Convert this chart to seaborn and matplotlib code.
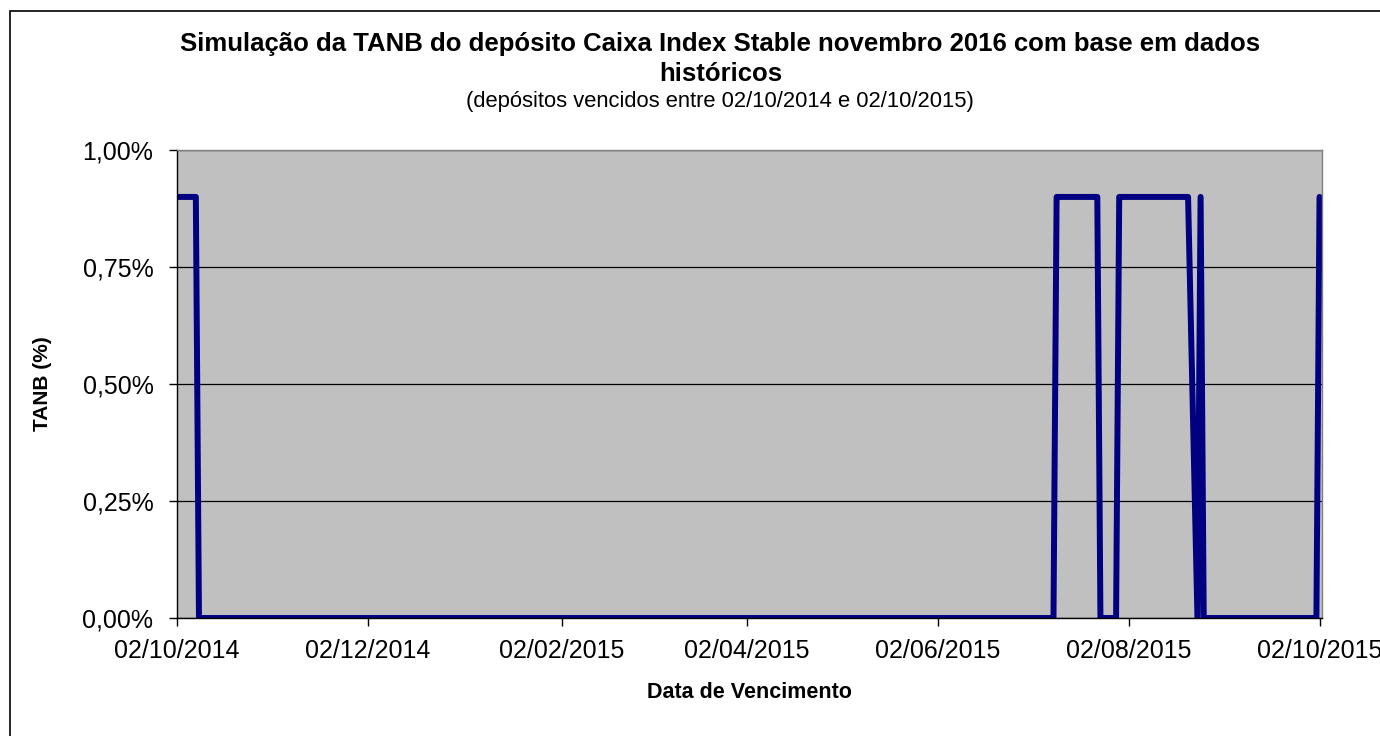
import matplotlib
matplotlib.use("Agg")
import matplotlib.pyplot as plt
import matplotlib.dates as mdates
from matplotlib.patches import Rectangle
import pandas as pd
import seaborn as sns

# vertices of the TANB line (date, value in %)
dates = [
    "2014-10-02", "2014-10-08", "2014-10-09", "2015-07-09", "2015-07-10",
    "2015-07-23", "2015-07-24", "2015-07-29", "2015-07-30", "2015-08-21",
    "2015-08-24", "2015-08-25", "2015-08-26", "2015-10-01", "2015-10-02",
]
tanb = [0.9, 0.9, 0.0, 0.0, 0.9, 0.9, 0.0, 0.0, 0.9, 0.9, 0.0, 0.9, 0.0, 0.0, 0.9]

tick_dates = ["2014-10-02", "2014-12-02", "2015-02-02", "2015-04-02",
              "2015-06-02", "2015-08-02", "2015-10-02"]
y_ticks = [0.0, 0.25, 0.5, 0.75, 1.0]

df = pd.DataFrame({"Data": pd.to_datetime(dates), "TANB": tanb})

sns.set_style("white")
plt.rcParams["font.family"] = ["Liberation Sans", "DejaVu Sans"]
plt.rcParams["text.color"] = "black"
plt.rcParams["axes.labelcolor"] = "black"
plt.rcParams["xtick.color"] = "black"
plt.rcParams["ytick.color"] = "black"

fig = plt.figure(figsize=(13.8, 7.36), dpi=100)
ax = fig.add_axes([0.1283, 0.1603, 0.8297, 0.6357])

# outer chart frame (cut off at the right edge like the original)
fig.patches.append(Rectangle((10 / 1380, -0.05), 1.2, (736 - 11) / 736 + 0.05,
                             transform=fig.transFigure, fill=False,
                             edgecolor="black", linewidth=1.2))

ax.set_facecolor("#C0C0C0")

sns.lineplot(data=df, x="Data", y="TANB", ax=ax, color="#000080",
             linewidth=4.3, estimator=None, sort=False)

ax.set_ylim(0, 1.0)
ax.set_xlim(pd.Timestamp("2014-10-02"), pd.Timestamp("2015-10-02") + pd.Timedelta(days=0.8))
ax.set_yticks(y_ticks)
ax.set_yticklabels([f"{v:.2f}%".replace(".", ",") for v in y_ticks])
ax.set_xticks(pd.to_datetime(tick_dates))
ax.xaxis.set_major_formatter(mdates.DateFormatter("%d/%m/%Y"))

ax.yaxis.grid(True, color="black", linewidth=0.9)
ax.set_axisbelow(True)
ax.tick_params(axis="both", labelsize=18, length=6, width=1, direction="out",
               color="black")
ax.tick_params(axis="x", pad=9)
ax.tick_params(axis="y", pad=11)
ax.tick_params(left=True, bottom=True)

for s in ["top", "right"]:
    ax.spines[s].set_color("#808080")
    ax.spines[s].set_linewidth(1)
for s in ["left", "bottom"]:
    ax.spines[s].set_color("black")
    ax.spines[s].set_linewidth(1)

ax.set_xlabel("Data de Vencimento", fontsize=15.5, fontweight="bold", labelpad=14)
ax.set_ylabel("TANB (%)", fontsize=15, fontweight="bold", labelpad=22)

fig.text(0.522, 0.920,
         "Simulação da TANB do depósito Caixa Index Stable novembro 2016 com base em dados\nhistóricos",
         ha="center", va="center", fontsize=18.5, fontweight="bold", linespacing=1.3)
fig.text(0.522, 0.862, "(depósitos vencidos entre 02/10/2014 e 02/10/2015)",
         ha="center", va="center", fontsize=15.8)

plt.savefig("out.png", dpi=100)
plt.close()
